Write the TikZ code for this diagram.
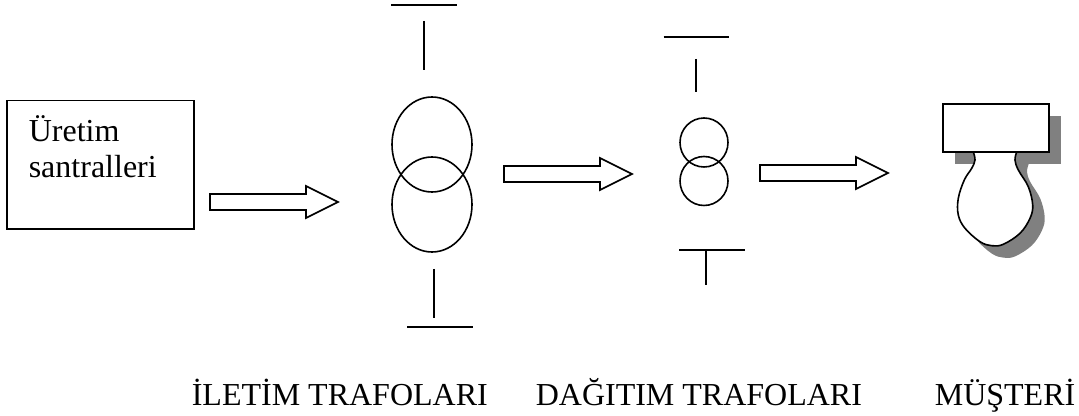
\documentclass[tikz,border=0pt]{standalone}
\usepackage{fontspec}
\setmainfont{Liberation Serif}
\usetikzlibrary{positioning,shapes.geometric}
\definecolor{shadowgray}{gray}{0.5}
\tikzset{font=\fontsize{24}{27}\selectfont}
\tikzset{coil/.style={draw, ellipse, inner sep=0pt, minimum width=#1}}
\tikzset{caption/.style={anchor=base west, inner sep=0pt}}
\tikzset{blockarrow/.pic={
	\draw[fill=white, line join=miter] (0,-8) -- (96,-8) -- (96,-16) -- (128,0) -- (96,16) -- (96,8) -- (0,8) -- cycle;
}}
\newcommand{\bulbpath}{plot[smooth, tension=0.6] coordinates {(973.3,152) (975,160) (971.7,168.3) (964.3,180) (958.3,198.3) (958.3,215) (965,228.3) (980,241.7) (991.7,245.7) (1003.3,244.3) (1020,233.3) (1030,218.3) (1032.7,205) (1028.3,186.7) (1018.3,170) (1015,160) (1016.7,152)}}

\begin{document}
\begin{tikzpicture}[x=0.75pt, y=-0.75pt, line width=1.2pt]
	\useasboundingbox (0,0) rectangle (1079,416);

	% source
	\node[draw, minimum width=140.25pt, minimum height=96.4pt, inner sep=0pt] (santral) at (100.5,164.75) {};
	\node[caption] (uretim) at (28,142) {Üretim};
	\node[caption] (santralleri) at (28,178) {santralleri};

	% big transformer
	\draw (391,5) -- (456.5,5);
	\draw (424,21) -- (424,70);
	\node[coil=60pt, minimum height=71.25pt] (ilet1) at (432,144.5) {};
	\node[coil=60pt, minimum height=71.25pt] (ilet2) at (432,204.5) {};
	\draw (434,269) -- (434,318);
	\draw (407,327) -- (472.5,327);

	% small transformer
	\draw (663.5,37) -- (728.5,37);
	\draw (696,59) -- (696,92);
	\node[coil=36pt, minimum height=36.75pt] (dagit1) at (704,142.5) {};
	\node[coil=36pt, minimum height=36.75pt] (dagit2) at (704,181) {};
	\draw (679,250) -- (744.5,250);
	\draw (706,251) -- (706,285);

	% arrows
	\pic at (210,202) {blockarrow};
	\pic at (504,174) {blockarrow};
	\pic at (760,173) {blockarrow};

	% customer
	\fill[shadowgray] (955,116) rectangle (1061,164);
	\fill[shadowgray, shift={(12,12)}] \bulbpath -- cycle;
	\draw[fill=white] \bulbpath -- cycle;
	\node[draw, fill=white, minimum width=79.5pt, minimum height=36pt, inner sep=0pt] (lamba) at (996,128) {};

	% captions
	\node[caption] (ilet) at (191,405.5) {İLETİM TRAFOLARI};
	\node[caption] (dagit) at (535,405.5) {DAĞITIM TRAFOLARI};
	\node[caption] (musteri) at (934,405.5) {MÜŞTERİ};
\end{tikzpicture}
\end{document}
